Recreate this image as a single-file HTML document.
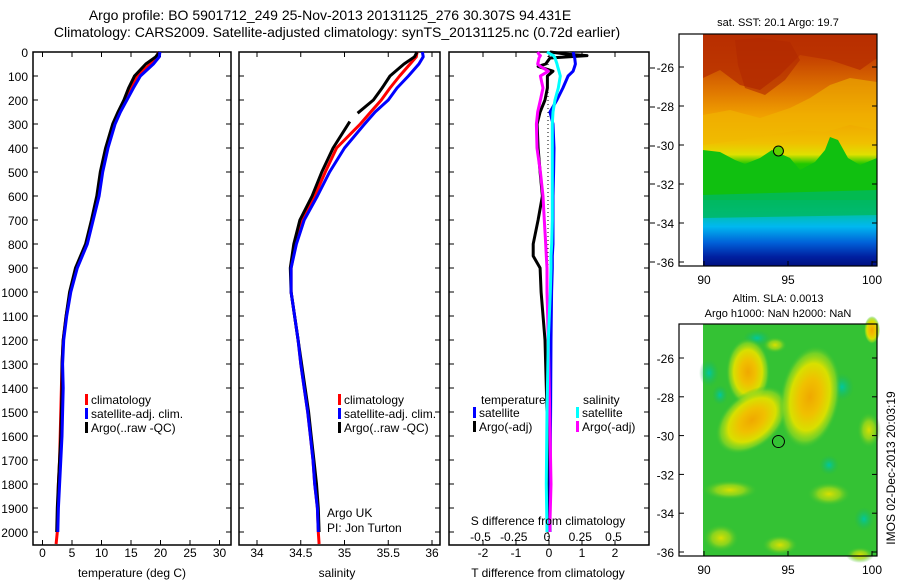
<!DOCTYPE html>
<html><head><meta charset="utf-8">
<style>
html,body{margin:0;padding:0;background:#fff;}
svg{display:block;font-family:"Liberation Sans",sans-serif;}
</style></head>
<body>
<svg id="fig" width="900" height="580" viewBox="0 0 900 580" xmlns="http://www.w3.org/2000/svg">
<defs>
 <radialGradient id="gOr" cx="50%" cy="50%" r="50%"><stop offset="0" stop-color="#f0a800"/><stop offset="0.35" stop-color="#f0c000"/><stop offset="0.65" stop-color="#d8e000"/><stop offset="0.85" stop-color="#90d820" stop-opacity="0.7"/><stop offset="1" stop-color="#34c234" stop-opacity="0"/></radialGradient>
 <radialGradient id="gYe" cx="50%" cy="50%" r="50%"><stop offset="0" stop-color="#d8e000"/><stop offset="0.5" stop-color="#a0d818" stop-opacity="0.8"/><stop offset="1" stop-color="#34c234" stop-opacity="0"/></radialGradient>
 <radialGradient id="gTe" cx="50%" cy="50%" r="50%"><stop offset="0" stop-color="#00c8a0"/><stop offset="1" stop-color="#20b850" stop-opacity="0"/></radialGradient>
 <linearGradient id="gSst" x1="0" y1="0" x2="0" y2="1">
  <stop offset="0" stop-color="#b82800"/><stop offset="0.12" stop-color="#c84800"/><stop offset="0.25" stop-color="#e07800"/><stop offset="0.35" stop-color="#f0a000"/><stop offset="0.47" stop-color="#f0c000"/><stop offset="0.52" stop-color="#e0e000"/>
  <stop offset="0.56" stop-color="#20c800"/><stop offset="0.68" stop-color="#00b830"/><stop offset="0.76" stop-color="#00c098"/><stop offset="0.83" stop-color="#00b8f0"/><stop offset="0.9" stop-color="#0060d8"/><stop offset="0.96" stop-color="#0020a0"/><stop offset="1" stop-color="#001080"/>
 </linearGradient>
</defs>
</svg>
<script>
// ---------- data ----------
const depthD = [0,20,50,100,150,200,250,300,400,500,600,700,800,900,1000,1100,1200,1300,1400,1500,1600,1700,1800,1900,2000,2050];
const climT = [19.7,19.3,18.3,16.0,15.0,14.0,13.0,12.1,10.9,10.0,9.4,8.4,7.5,5.8,4.7,4.0,3.5,3.3,3.2,3.1,3.0,2.9,2.7,2.6,2.5,2.3];
const satT  = [19.9,19.8,18.8,16.6,15.4,14.3,13.2,12.3,11.1,10.2,9.6,8.6,7.6,5.9,4.8,4.1,3.6,3.4,3.5,3.4,3.3,3.1,2.9,2.7,2.6,null];
const argoT = [19.8,19.2,17.5,15.6,14.6,13.8,12.8,11.9,10.7,9.8,9.2,8.3,7.3,5.6,4.6,4.0,3.5,3.3,3.3,3.2,3.1,2.9,2.7,2.5,2.4,null];
const climS = [35.83,35.82,35.75,35.63,35.52,35.42,35.3,35.18,34.91,34.78,34.66,34.52,34.44,34.39,34.39,34.43,34.47,34.5,34.54,34.58,34.61,34.64,34.66,34.69,34.7,34.71];
const satS  = [35.89,35.9,35.85,35.73,35.6,35.5,35.35,35.23,35.0,34.83,34.69,34.54,34.45,34.39,34.39,34.43,34.47,34.5,34.54,34.58,34.61,34.64,34.66,34.69,34.7,null];
const argoSD = [0,20,50,100,150,200,255,275,290,400,500,600,700,800,900,1000,1100,1200,1300,1400,1500,1600,1700,1800,1900,2000];
const argoS = [35.83,35.8,35.68,35.52,35.43,35.33,35.15,null,35.06,34.87,34.74,34.63,34.49,34.42,34.38,34.39,34.43,34.47,34.51,34.55,34.59,34.62,34.65,34.68,34.7,34.71];
const diffD  = [0,10,15,25,50,60,80,100,150,200,250,300,400,500,600,700,800,850,900,1000,1200,1500,1800,2000];
const satTd  = [0.73,0.75,0.75,0.78,0.8,0.78,0.73,0.58,0.42,0.24,0.03,0.12,0.15,0.14,0.12,0.12,0.12,0.1,0.1,0.08,0.06,0.05,0.03,0.03];
const argoTd = [0.03,0.6,1.15,0.03,-0.1,-0.33,0.12,-0.05,-0.05,-0.12,-0.27,-0.36,-0.33,-0.27,-0.2,-0.33,-0.48,-0.48,-0.27,-0.24,-0.12,-0.06,-0.05,-0.05];
const satSd  = [0,0.03,0.05,0.06,0.075,0.08,0.09,0.1,0.085,0.06,0.045,0.04,0.04,0.04,0.04,0.04,0.035,0.03,0.03,0.025,0.01,0,-0.005,0];
const argoSd = [-0.07,-0.06,-0.05,-0.06,-0.07,-0.05,0.01,-0.05,-0.03,-0.05,-0.07,-0.08,-0.075,-0.05,-0.03,-0.02,-0.01,-0.005,0,0,0.01,0.02,0.03,0.02];
const depthTicks = [0,100,200,300,400,500,600,700,800,900,1000,1100,1200,1300,1400,1500,1600,1700,1800,1900,2000];
const tempTicks = [0,5,10,15,20,25,30];
const salTicks = [34,34.5,35,35.5,36];
const salTickLabels = ["34","34.5","35","35.5","36"];
const tdTicks = [-2,-1,0,1,2];
const sdTicks = [-0.5,-0.25,0,0.25,0.5];
const sdTickLabels = ["-0.5","-0.25","0","0.25","0.5"];
const latTicks = [-26,-28,-30,-32,-34,-36];
const lonTicks = [90,95,100];
const argoLon = 94.431, argoLat = -30.307;

// ---------- helpers ----------
const NS = "http://www.w3.org/2000/svg";
const svg = document.getElementById('fig');
function mk(tag, attrs, parent){ const e=document.createElementNS(NS,tag); for(const k in attrs) e.setAttribute(k,attrs[k]); (parent||svg).appendChild(e); return e; }
function txt(x,y,s,anchor,size,parent){ const t=mk('text',{x:x,y:y,'font-size':size||12,'text-anchor':anchor||'start',fill:'#000'},parent); t.textContent=s; return t; }
const yD = d => 52 + d*0.24;
const P1 = {l:33,r:231}, P2={l:239,r:440}, P3={l:449,r:649};
const xT = v => 42.5 + v*5.9;
const xS = v => 257 + (v-34)*87.5;
const xTd = v => 549 + v*33;
const xSd = v => 547 + v*133;

function line(depths, vals, xf, color, name, w){
  let d="", pen=false;
  for(let i=0;i<depths.length;i++){
    if(vals[i]===null||vals[i]===undefined){pen=false;continue;}
    d += (pen?"L":"M")+xf(vals[i]).toFixed(1)+","+yD(depths[i]).toFixed(1);
    pen=true;
  }
  const p=mk('path',{d:d,fill:'none',stroke:color,'stroke-width':w||3,'stroke-linejoin':'round'});
  
  
  return p;
}
function frame(P,name){
  const g=mk('g',{});
  
  
  mk('rect',{x:P.l,y:52,width:P.r-P.l,height:493,fill:'none',stroke:'#000','stroke-width':1.5},g);
  depthTicks.forEach(d=>{ mk('line',{x1:P.l,x2:P.l+5,y1:yD(d),y2:yD(d),stroke:'#000'},g); mk('line',{x1:P.r-5,x2:P.r,y1:yD(d),y2:yD(d),stroke:'#000'},g); });
  return g;
}
function xticks(P,ticks,xf,g){
  ticks.forEach(v=>{ const x=xf(v); mk('line',{x1:x,x2:x,y1:52,y2:57,stroke:'#000'},g); mk('line',{x1:x,x2:x,y1:540,y2:545,stroke:'#000'},g); });
}
function legend(x,y,rows,g){
  rows.forEach((r,i)=>{
    const yy=y+i*14;
    const m=mk('rect',{x:x,y:yy-10,width:3,height:11,fill:r[0]},g);
    
    
    const t=txt(x+6,yy,r[1],'start',12,g);
    
    
  });
}

// ---------- titles ----------
let t1=txt(330,20,"Argo profile: BO 5901712_249 25-Nov-2013 20131125_276 30.307S 94.431E",'middle',14);
 
let t2=txt(337,37,"Climatology: CARS2009. Satellite-adjusted climatology: synTS_20131125.nc (0.72d earlier)",'middle',14);
 

// ---------- panel 1 temperature ----------
const g1=frame(P1,'temperature-panel');
xticks(P1,tempTicks,xT,g1);
depthTicks.forEach(d=>{ const t=txt(28,yD(d)+5,String(d),'end',12);   });
tempTicks.forEach(v=>{ const t=txt(xT(v),557,String(v),'middle',12);   });
let xl1=txt(132,577,"temperature (deg C)",'middle',12);  
line(depthD,climT,xT,'#f00','temp-climatology-line');
line(depthD,argoT,xT,'#000','temp-argo-line');
line(depthD,satT,xT,'#00f','temp-satellite-line');
legend(85,404,[['#f00','climatology'],['#00f','satellite-adj. clim.'],['#000','Argo(..raw -QC)']],g1);

// ---------- panel 2 salinity ----------
const g2=frame(P2,'salinity-panel');
xticks(P2,salTicks,xS,g2);
salTicks.forEach((v,i)=>{ const t=txt(xS(v),557,salTickLabels[i],'middle',12);   });
let xl2=txt(337,577,"salinity",'middle',12);  
line(depthD,climS,xS,'#f00','sal-climatology-line');
line(argoSD,argoS,xS,'#000','sal-argo-line');
line(depthD,satS,xS,'#00f','sal-satellite-line');
legend(338,404,[['#f00','climatology'],['#00f','satellite-adj. clim.'],['#000','Argo(..raw -QC)']],g2);
let au=txt(327,517,"Argo UK",'start',12);  
let pi=txt(327,532,"PI: Jon Turton",'start',12);  

// ---------- panel 3 differences ----------
const g3=frame(P3,'difference-panel');
xticks(P3,tdTicks,xTd,g3);
let zl=mk('line',{x1:548,x2:548,y1:yD(0),y2:yD(2050),stroke:'#000','stroke-dasharray':'1,3'},g3);
 
line(diffD,argoTd,xTd,'#000','temp-diff-argo-line');
line(diffD,satTd,xTd,'#00f','temp-diff-satellite-line');
line(diffD,argoSd,xSd,'#f0f','sal-diff-argo-line');
line(diffD,satSd,xSd,'#0ff','sal-diff-satellite-line');
tdTicks.forEach(v=>{ const t=txt(xTd(v),557,String(v),'middle',12);   });
sdTicks.forEach((v,i)=>{ const t=txt(xSd(v),541,sdTickLabels[i],'middle',12);   });
let sdt=txt(548,525,"S difference from climatology",'middle',12);  
let tdt=txt(548,577,"T difference from climatology",'middle',12);  
let lt=txt(481,404,"temperature",'start',12,g3);  
let ls=txt(583,404,"salinity",'start',12,g3);  
legend(473,417,[['#00f','satellite'],['#000','Argo(-adj)']],g3);
legend(576,417,[['#0ff','satellite'],['#f0f','Argo(-adj)']],g3);
[68,107,146,184,223,262].forEach(y=>mk('line',{x1:650,x2:655,y1:y,y2:y,stroke:'#000'}));

// ---------- maps ----------
function mapGroup(name){
  const g=mk('g',{});
  
  
  return g;
}
const lonX = lon => 704 + (lon-90)*16.8;

// SST map
const gA = mapGroup('sst-map');
const lyA = lat => 67 + (-26-lat)*19.5;
mk('rect',{x:703,y:34,width:174,height:232,fill:'url(#gSst)'},gA);
mk('path',{d:'M703,34 L877,34 L877,58 L860,70 L830,60 L800,55 L780,75 L760,90 L740,85 L720,70 L703,78 Z',fill:'#b83000',opacity:0.8},gA);
mk('path',{d:'M735,40 L760,38 L790,42 L800,60 L785,80 L765,95 L745,88 L738,65 Z',fill:'#b02800',opacity:0.6},gA);
mk('path',{d:'M703,150 L720,152 L735,160 L745,164 L760,158 L772,150 L790,158 L800,170 L815,162 L825,150 L830,137 L838,140 L848,158 L860,165 L877,158 L877,200 L703,200 Z',fill:'#10c010'},gA);
mk('path',{d:'M703,195 L877,190 L877,215 L703,218 Z',fill:'#00b860',opacity:0.8},gA);
mk('path',{d:'M703,115 L730,110 L760,118 L790,108 L810,98 L830,85 L850,78 L877,82 L877,130 L850,125 L825,132 L800,130 L770,135 L740,140 L703,145 Z',fill:'#f0b800',opacity:0.55},gA);
mk('rect',{x:679,y:34,width:198,height:232,fill:'none',stroke:'#000','stroke-width':1.2},gA);
let ca=mk('circle',{cx:lonX(argoLon),cy:lyA(argoLat),r:5,fill:'#60d000',stroke:'#000','stroke-width':1},gA);
 
latTicks.forEach(l=>{ const y=lyA(l); mk('line',{x1:679,x2:684,y1:y,y2:y,stroke:'#000'},gA); mk('line',{x1:872,x2:877,y1:y,y2:y,stroke:'#000'},gA); const t=txt(674,y+5,String(l),'end',12,gA);   });
lonTicks.forEach(l=>{ const x=lonX(l); mk('line',{x1:x,x2:x,y1:261,y2:266,stroke:'#000'},gA); const t=txt(x,284,String(l),'middle',12,gA);   });
let st=txt(778,26,"sat. SST: 20.1 Argo: 19.7",'middle',11);  

// SLA map
const gB = mapGroup('sla-map');
const lyB = lat => 358 + (-26-lat)*19.4;
mk('rect',{x:703,y:324,width:174,height:232,fill:'#34c234'},gB);
[[842,387,12,14],[829,465,10,10],[864,519,10,12],[709,373,10,14],[757,338,14,8],[720,395,8,10]].forEach(e=>mk('ellipse',{cx:e[0],cy:e[1],rx:e[2],ry:e[3],fill:'url(#gTe)'},gB));
[[829,494,22,12],[721,538,18,14],[775,345,12,8],[869,430,12,18],[730,490,28,10],[780,545,18,10],[860,555,14,8]].forEach(e=>mk('ellipse',{cx:e[0],cy:e[1],rx:e[2],ry:e[3],fill:'url(#gYe)'},gB));
mk('ellipse',{cx:748,cy:372,rx:22,ry:34,fill:'url(#gOr)'},gB);
mk('ellipse',{cx:752,cy:420,rx:42,ry:27,fill:'url(#gOr)',transform:'rotate(-40 752 420)'},gB);
mk('ellipse',{cx:810,cy:397,rx:30,ry:52,fill:'url(#gOr)',transform:'rotate(10 810 397)'},gB);
mk('ellipse',{cx:872,cy:330,rx:8,ry:14,fill:'url(#gOr)'},gB);
mk('rect',{x:679,y:324,width:198,height:232,fill:'none',stroke:'#000','stroke-width':1.2},gB);
let cb=mk('circle',{cx:lonX(argoLon),cy:lyB(argoLat),r:6,fill:'none',stroke:'#000','stroke-width':1},gB);
 
latTicks.forEach(l=>{ const y=lyB(l); mk('line',{x1:679,x2:684,y1:y,y2:y,stroke:'#000'},gB); mk('line',{x1:872,x2:877,y1:y,y2:y,stroke:'#000'},gB); const t=txt(674,y+5,String(l),'end',12,gB);   });
lonTicks.forEach(l=>{ const x=lonX(l); mk('line',{x1:x,x2:x,y1:551,y2:556,stroke:'#000'},gB); const t=txt(x,574,String(l),'middle',12,gB);   });
let s1=txt(778,302,"Altim. SLA: 0.0013",'middle',11);  
let s2=txt(778,317,"Argo h1000: NaN h2000: NaN",'middle',11);  
let im=txt(0,0,"IMOS 02-Dec-2013 20:03:19",'middle',12);
im.setAttribute('transform','translate(895,468) rotate(-90)');
 
</script>
</body></html>
